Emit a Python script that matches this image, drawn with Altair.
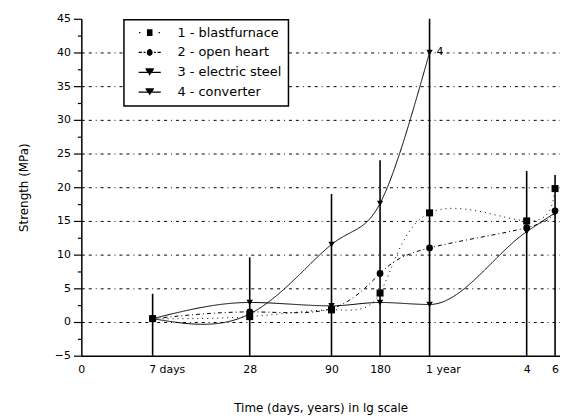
import altair as alt
import pandas as pd

# ---- data ----
days = [7, 28, 90, 180, 365, 1460, 2190]
tick_labels = ["7 days", "28", "90", "180", "1 year", "4", "6"]
series = ["1 - blastfurnace", "2 - open heart", "3 - electric steel", "4 - converter"]
blast = [0.5, 0.8, 1.8, 4.3, 16.2, 15.0, 19.8]
openh = [0.5, 1.5, 2.0, 7.2, 11.0, 14.0, 16.5]
electric = [0.5, 2.9, 2.4, 2.9, 2.6, 13.4, 16.2]
converter = [0.5, 1.2, 11.5, 17.6, 40.0]
err_top = [4.2, 9.6, 19.0, 24.0, 45.0, 22.4, 21.8]
x_min_day = 2.53
x_max_day = 2350

rows = []
for name, vals in zip(series, [blast, openh, electric, converter]):
    for i, v in enumerate(vals):
        rows.append({"series": name, "days": days[i], "val": v, "order": i})
df = pd.DataFrame(rows)
err_df = pd.DataFrame({"days": days, "top": err_top, "low": [-5] * len(days)})
note_df = pd.DataFrame({"days": [days[len(converter) - 1]], "val": [converter[-1]], "txt": ["4"]})

label_expr = "datum.value < 3 ? '0' : " + " : ".join(
    f"datum.value == {d} ? '{t}'" for d, t in zip(days, tick_labels)) + " : ''"

x_axis = alt.Axis(
    values=[x_min_day] + days, labelExpr=label_expr, ticks=False, grid=False,
    title="Time (days, years) in lg scale", labelPadding=8, titlePadding=28,
    labelAlign={"condition": {"test": "datum.value == 7 || datum.value == 365", "value": "left"}, "value": "center"},
    labelOffset={"condition": {"test": "datum.value == 7 || datum.value == 365", "value": -4}, "value": 0},
)
y_axis = alt.Axis(
    values=[-5 + 2.5 * i for i in range(21)],
    labelExpr="datum.value % 5 == 0 ? format(datum.value, 'd') : ''",
    tickSize={"condition": {"test": "datum.value % 5 == 0", "value": 8}, "value": 4},
    grid=True, gridColor="black", gridDash=[3, 4, 3, 4, 1, 4], gridWidth=1,
    gridOpacity={"condition": {"test": "datum.value % 5 == 0 && datum.value > -5 && datum.value < 45", "value": 1}, "value": 0},
    title="Strength (MPa)", labelPadding=3, titlePadding=24,
)
xs = alt.Scale(type="log", domain=[x_min_day, x_max_day], nice=False)
ys = alt.Scale(domain=[-5, 45], nice=False)

X = alt.X("days:Q", scale=xs, axis=x_axis)
Y = alt.Y("val:Q", scale=ys, axis=y_axis)

errbars = alt.Chart(err_df).mark_rule(color="black", strokeWidth=1.6).encode(
    x=X, y=alt.Y("top:Q", scale=ys, axis=y_axis), y2="low:Q")

dash_map = {series[0]: [1, 4], series[1]: [4, 3, 1, 3], series[2]: [1, 0], series[3]: [1, 0]}
interp_map = {series[0]: "natural", series[1]: "natural", series[2]: "monotone", series[3]: "natural"}
line_layers = []
for s in series:
    line_layers.append(
        alt.Chart(df[df.series == s]).mark_line(
            interpolate=interp_map[s], color="black", strokeWidth=1, strokeDash=dash_map[s]
        ).encode(x=X, y=Y, order="order:Q")
    )

points = alt.Chart(df).mark_point(filled=True, color="black", opacity=1).encode(
    x=X, y=Y,
    shape=alt.Shape("series:N", scale=alt.Scale(domain=series, range=["square", "circle", "triangle-down", "triangle-down"]), legend=None),
    size=alt.Size("series:N", scale=alt.Scale(domain=series, range=[50, 40, 130, 130]), legend=None))


# legend glyphs: stroked-only paths (line sample + marker drawn as stacked strokes)
def hatch(half_widths, y0, step):
    parts = []
    for k, hw in enumerate(half_widths):
        y = y0 + k * step
        parts.append(f"M{-hw:.3f},{y:.3f}H{hw:.3f}")
    return "".join(parts)


sq = hatch([0.25] * 8, -0.245, 0.07)
circ = hatch([0.12, 0.2, 0.24, 0.26, 0.26, 0.24, 0.2, 0.12], -0.245, 0.07)
tri = hatch([0.38, 0.34, 0.29, 0.24, 0.19, 0.14, 0.09, 0.05, 0.02], -0.3, 0.07)
legend_paths = [
    "M-0.96,0H-0.84M0.8,0H0.92" + sq,
    "M-1,0H-0.7M-0.55,0H-0.38M0.38,0H0.55M0.7,0H1" + circ,
    "M-1,0H1" + tri,
    "M-1,0H1" + tri,
]
legend_layer = alt.Chart(df).mark_point(filled=False, color="black", opacity=0, size=500).encode(
    x=X, y=Y,
    shape=alt.Shape("series:N", scale=alt.Scale(domain=series, range=legend_paths),
                    legend=alt.Legend(title=None, orient="none", legendX=43, legendY=1,
                                      strokeColor="black", fillColor="white", padding=7,
                                      rowPadding=7, clipHeight=12, symbolSize=500,
                                      symbolOffset=7,
                                      symbolOpacity=1,
                                      symbolStrokeColor="black", symbolStrokeWidth=1.3,
                                      labelFontSize=13, labelOffset=16, labelFont="DejaVu Sans",
                                      labelColor="black")))

note = alt.Chart(note_df).mark_text(align="left", dx=7, fontSize=11, font="DejaVu Sans", color="black").encode(
    x=X, y=Y, text="txt:N")

chart = alt.layer(errbars, *line_layers, points, legend_layer, note).resolve_scale(
    shape="independent"
).properties(
    width=483, height=340,
    autosize=alt.AutoSizeParams(type="none"),
    padding={"left": 74, "top": 9, "right": 0, "bottom": 62},
).configure_view(stroke="transparent").configure_axis(
    labelFont="DejaVu Sans", titleFont="DejaVu Sans", labelFontSize=11, titleFontSize=12,
    titleFontWeight="normal", labelColor="black", titleColor="black",
    domainColor="black", tickColor="black", domainWidth=1.5, tickWidth=1.2,
).configure_legend(strokeWidth=1.5)

chart.save("out.html", embed_options={"renderer": "svg", "actions": False})
